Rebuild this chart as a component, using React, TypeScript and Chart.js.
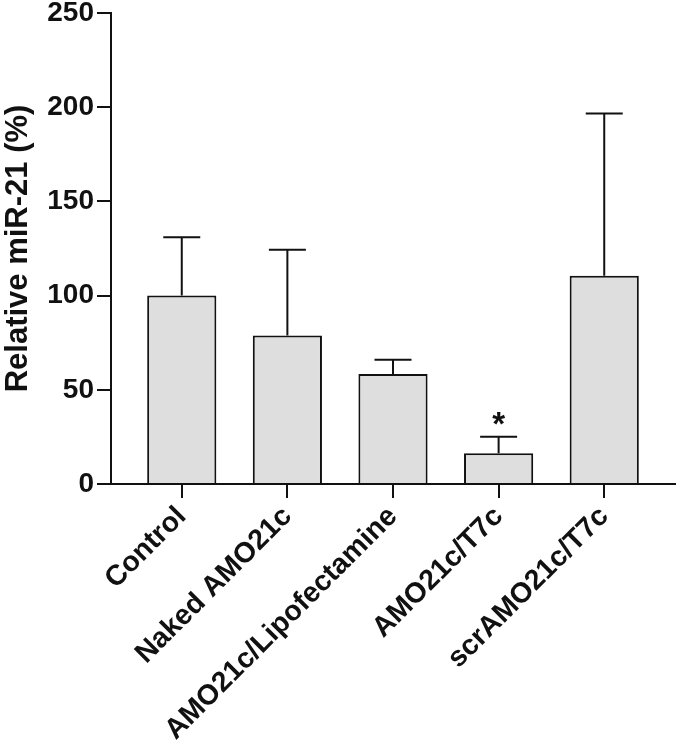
import React, { useEffect, useRef } from "react";
import { Chart, registerables } from "chart.js";

Chart.register(...registerables);

const categories = ["Control", "Naked AMO21c", "AMO21c/Lipofectamine", "AMO21c/T7c", "scrAMO21c/T7c"];
const means = [100, 78.8, 58.4, 16.3, 110.6];
const sds = [31, 45.5, 7.6, 8.8, 86.1];
const marks = ["", "", "", "*", ""];
const yTicks = [0, 50, 100, 150, 200, 250];
const yTitle = "Relative miR-21 (%)";

const FONT = "'Liberation Sans', Arial, Helvetica, sans-serif";

const errorBarPlugin = {
  id: "errorBars",
  afterDatasetsDraw(chart: any) {
    const ctx = chart.ctx;
    const xs = chart.scales.x;
    const ys = chart.scales.y;
    ctx.save();
    ctx.strokeStyle = "#111";
    ctx.lineWidth = 2;
    means.forEach((m, i) => {
      const x = xs.getPixelForValue(i);
      const y0 = ys.getPixelForValue(m);
      const y1 = ys.getPixelForValue(m + sds[i]);
      ctx.beginPath();
      ctx.moveTo(x, y0);
      ctx.lineTo(x, y1);
      ctx.moveTo(x - 18.5, y1);
      ctx.lineTo(x + 18.5, y1);
      ctx.stroke();
      if (marks[i]) {
        ctx.fillStyle = "#111";
        ctx.font = `bold 33px ${FONT}`;
        ctx.textAlign = "center";
        ctx.textBaseline = "alphabetic";
        ctx.fillText(marks[i], x, y1 - 2);
      }
    });
    ctx.restore();
  },
};

export default function App() {
  const ref = useRef<HTMLCanvasElement | null>(null);
  useEffect(() => {
    document.body.style.margin = "0";
    const canvas = ref.current;
    if (!canvas) return;
    const chart = new Chart(canvas, {
      type: "bar",
      data: {
        datasets: [
          {
            data: means.map((v, i) => ({ x: i, y: v })),
            backgroundColor: "#dedede",
            borderColor: "#111",
            borderWidth: 2,
            borderSkipped: "bottom",
            categoryPercentage: 1,
            barPercentage: 0.655,
          },
        ],
      },
      options: {
        animation: false,
        responsive: true,
        maintainAspectRatio: false,
        layout: { padding: { top: 13, right: 4, left: 0, bottom: 0 } },
        plugins: { legend: { display: false }, tooltip: { enabled: false } },
        scales: {
          x: {
            type: "linear",
            min: -0.67,
            max: 4.67,
            offset: false,
            afterBuildTicks: (scale: any) => {
              scale.ticks = categories.map((_, i) => ({ value: i }));
            },
            afterFit: (scale: any) => {
              scale.height = 263;
              scale.paddingLeft = 0;
              scale.paddingRight = 0;
            },
            grid: {
              display: true,
              offset: false,
              drawOnChartArea: false,
              drawTicks: true,
              tickLength: 14,
              color: "#111",
              lineWidth: 2,
            },
            border: { display: true, color: "#111", width: 2 },
            ticks: {
              autoSkip: false,
              minRotation: 45,
              maxRotation: 45,
              padding: 2,
              color: "#111",
              font: { family: FONT, size: 28.5, weight: "bold" },
              callback: (v: any) => categories[v] ?? "",
            },
          },
          y: {
            min: 0,
            max: 250,
            afterBuildTicks: (scale: any) => {
              scale.ticks = yTicks.map((v) => ({ value: v }));
            },
            afterFit: (scale: any) => {
              scale.width = 111;
              scale.paddingTop = 0;
              scale.paddingBottom = 0;
            },
            grid: {
              display: true,
              drawOnChartArea: false,
              drawTicks: true,
              tickLength: 14,
              color: "#111",
              lineWidth: 2,
            },
            border: { display: true, color: "#111", width: 2 },
            ticks: {
              padding: 3,
              color: "#111",
              font: { family: FONT, size: 28, weight: "bold" },
            },
            title: {
              display: true,
              text: yTitle,
              color: "#111",
              padding: { top: 0, bottom: 0 },
              font: { family: FONT, size: 31, weight: "bold" },
            },
          },
        },
      },
      plugins: [errorBarPlugin],
    } as any);
    return () => chart.destroy();
  }, []);
  return (
    <div style={{ position: "relative", width: 679, height: 747 }}>
      <canvas ref={ref} />
    </div>
  );
}
